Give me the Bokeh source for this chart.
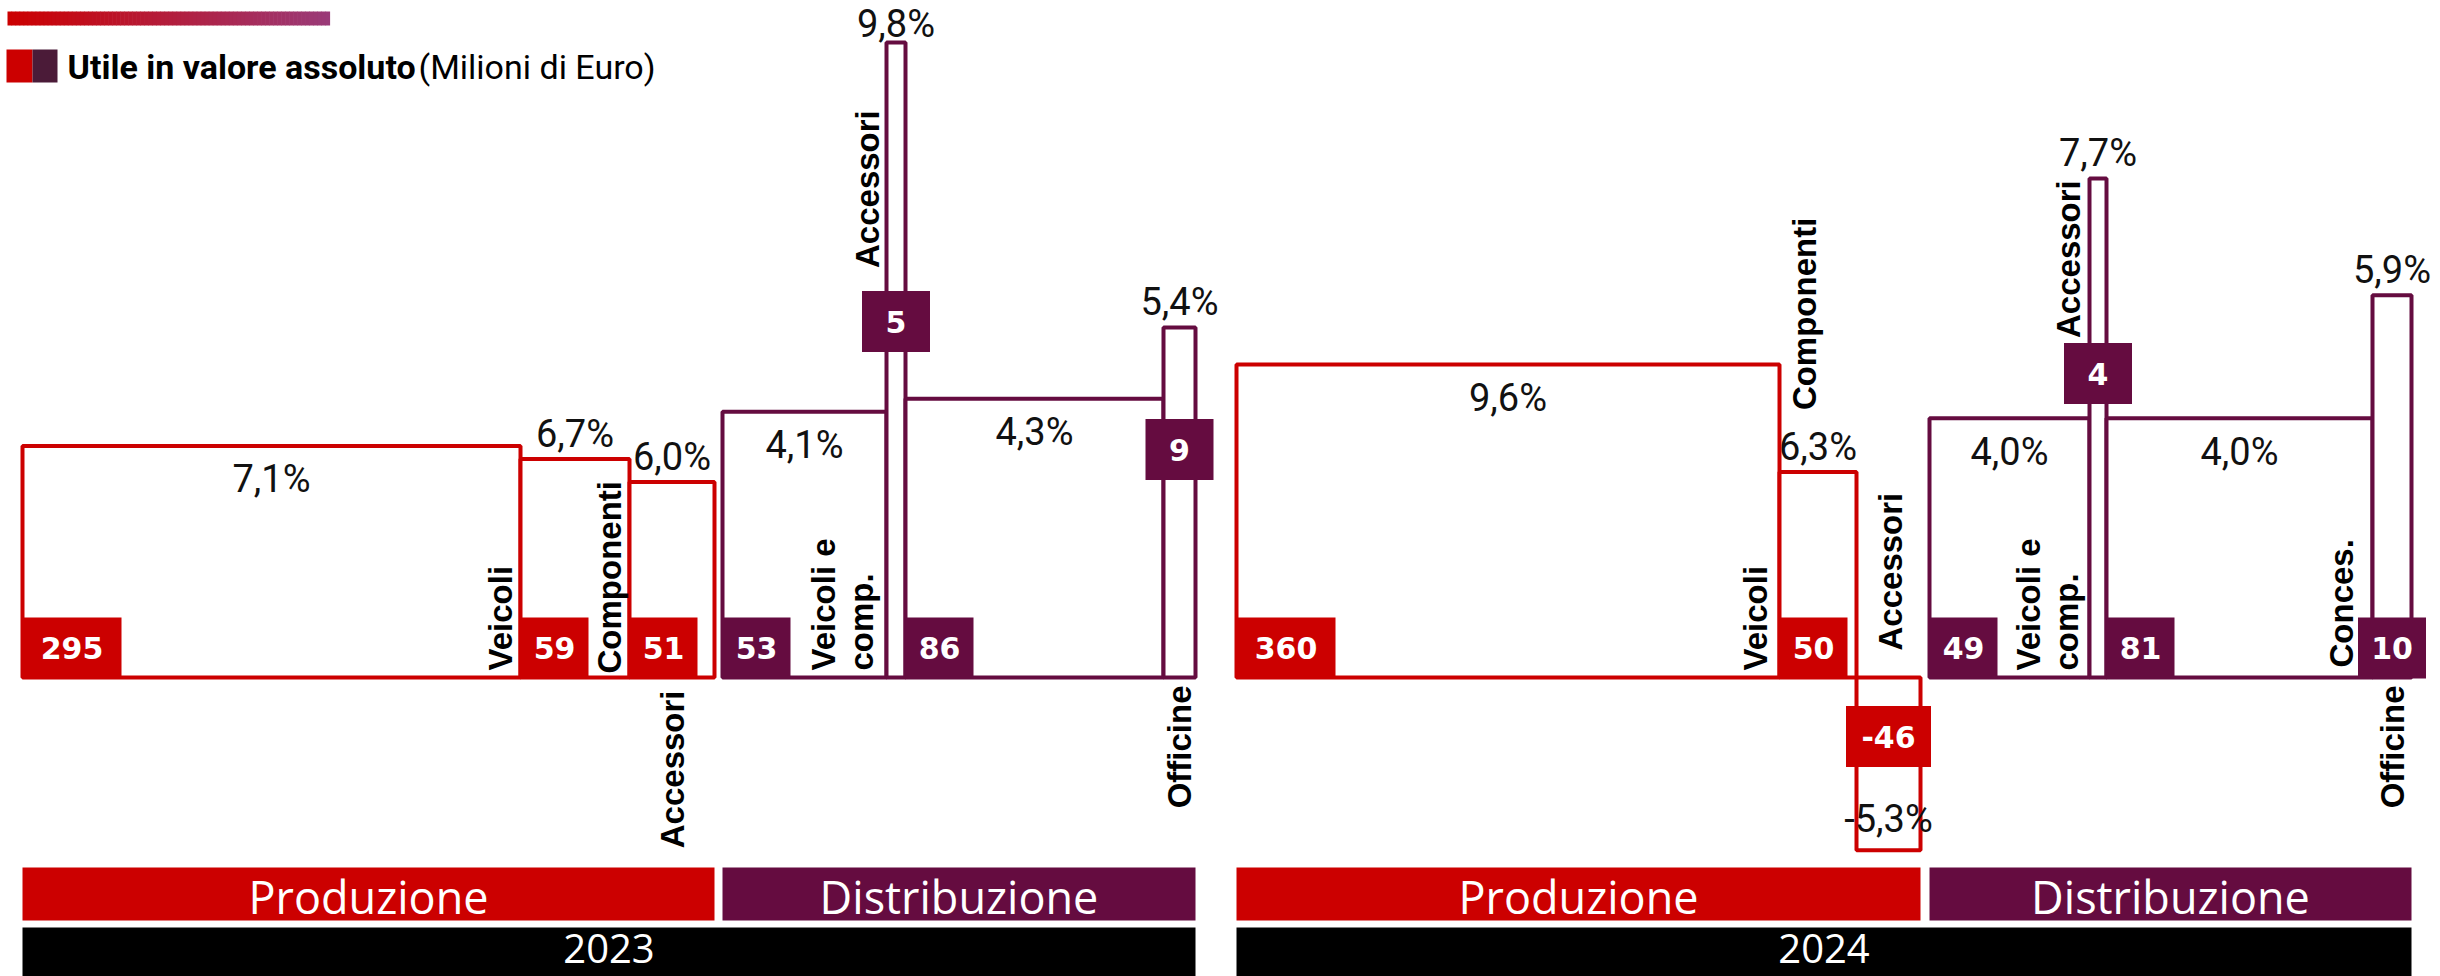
import math
from bokeh.plotting import figure
from bokeh.models import Range1d
from bokeh.core.properties import value
from bokeh.embed import file_html
from bokeh.resources import INLINE

# ---------------- DATA ----------------
anni = ["2023", "2024"]
settori = ["Produzione", "Distribuzione"]

seg_prod_2023 = ["Veicoli", "Componenti", "Accessori"]
margine_prod_2023 = [7.1, 6.7, 6.0]          # margine %
utile_prod_2023 = [295, 59, 51]              # utile, milioni di euro
peso_prod_2023 = [498, 109, 85]              # larghezza relativa delle colonne

seg_dist_2023 = ["Veicoli e\ncomp.", "Accessori", "Concessionari", "Officine"]
margine_dist_2023 = [4.1, 9.8, 4.3, 5.4]
utile_dist_2023 = [53, 5, 86, 9]
peso_dist_2023 = [164, 19, 258, 32]

seg_prod_2024 = ["Veicoli", "Componenti", "Accessori"]
margine_prod_2024 = [9.6, 6.3, -5.3]
utile_prod_2024 = [360, 50, -46]
peso_prod_2024 = [543, 77, 64]

seg_dist_2024 = ["Veicoli e\ncomp.", "Accessori", "Conces.", "Officine"]
margine_dist_2024 = [4.0, 7.7, 4.0, 5.9]
utile_dist_2024 = [49, 4, 81, 10]
peso_dist_2024 = [160, 17, 266, 39]

legenda_bold = "Utile in valore assoluto"
legenda_reg = "(Milioni di Euro)"

# ---------------- STYLE / LAYOUT ----------------
W, H = 2440, 976
BASE = 299.0          # px (from bottom) of the 0 % line
SP = 32.6             # px per % (Produzione)
SD = 64.8             # px per % (Distribuzione)
RED = "#CC0000"
PLUM = "#650C40"
LEG_DARK = "#4B1B38"
X_START = 22
GAPS = [0, 8, 41, 9]
MID_K = 0.35          # middle of text box above baseline, in em
TOP_LIMIT = H - 37    # highest allowed baseline for a label (px from bottom)

PCT_FS, CAT_FS, VAL_FS, BAND_FS, YEAR_FS, LEG_FS = 38, 33, 30, 45, 40, 34

# value box placement per segment
BOX_SPECS = [
    [("left",), ("left",), ("left",)],
    [("left",), ("center", 356), ("left",), ("center", 228)],
    [("left",), ("left",), ("center", -59)],
    [("left",), ("center", 304), ("left",), ("cbottom",)],
]
# category label placement per segment: (mode, dx, dy) -> baseline position
LAB_SPECS = [
    [("in", 8, 7), ("in", 8, 4), ("below", 12, 13)],
    [("in", 13, 7), ("left", 7, 23), None, ("below", 12, 8)],
    [("in", 12, 7), ("above_top", -2, 62), ("col", 14, 27)],
    [("in", 11, 7), ("left", 9, 5), ("in", 19, 10), ("below", 12, 8)],
]

blocks = [
    dict(anno=anni[0], settore=settori[0], nomi=seg_prod_2023, m=margine_prod_2023, u=utile_prod_2023, w=peso_prod_2023),
    dict(anno=anni[0], settore=settori[1], nomi=seg_dist_2023, m=margine_dist_2023, u=utile_dist_2023, w=peso_dist_2023),
    dict(anno=anni[1], settore=settori[0], nomi=seg_prod_2024, m=margine_prod_2024, u=utile_prod_2024, w=peso_prod_2024),
    dict(anno=anni[1], settore=settori[1], nomi=seg_dist_2024, m=margine_dist_2024, u=utile_dist_2024, w=peso_dist_2024),
]

p = figure(width=W, height=H, x_range=Range1d(0, W), y_range=Range1d(0, H),
           output_backend="svg", toolbar_location=None, min_border=0,
           x_axis_location=None, y_axis_location=None, outline_line_color=None)
p.grid.visible = False
p.extra_y_ranges = {"prod": Range1d(-BASE / SP, (H - BASE) / SP),
                    "dist": Range1d(-BASE / SD, (H - BASE) / SD)}

pct = {"prod": dict(x=[], y=[], t=[]), "dist": dict(x=[], y=[], t=[])}
boxes = dict(l=[], r=[], b=[], t=[], c=[])
box_txt = dict(x=[], y=[], t=[])
cats = dict(x=[], y=[], t=[], a=[])
bands = []

x = X_START
for bi, b in enumerate(blocks):
    x += GAPS[bi]
    rng = "prod" if b["settore"] == settori[0] else "dist"
    sc = SP if rng == "prod" else SD
    col = RED if rng == "prod" else PLUM
    bx0 = x
    L, R, B, T = [], [], [], []
    for wv, mv in zip(b["w"], b["m"]):
        L.append(x); R.append(x + wv)
        B.append(min(0, mv)); T.append(max(0, mv))
        x += wv
    bands.append((bx0, x, b["settore"], b["anno"], col))
    p.quad(left=L, right=R, bottom=B, top=T, y_range_name=rng,
           fill_color="white", line_color=col, line_width=4)

    for i, (nome, mv, uv) in enumerate(zip(b["nomi"], b["m"], b["u"])):
        l, r = L[i], R[i]
        cx = (l + r) / 2
        width = r - l
        # percent label (baseline offset in px, converted to % units)
        if mv < 0:
            base_off = 18
        elif width > 150:
            base_off = -46.5
        else:
            base_off = 12
            top_px = BASE + mv * sc
            base_off = min(top_px + base_off, TOP_LIMIT) - top_px
        yy = mv + (base_off + MID_K * PCT_FS) / sc
        pct[rng]["x"].append(cx); pct[rng]["y"].append(yy)
        pct[rng]["t"].append(f"{mv:.1f}".replace(".", ",") + "%")
        # value box
        s = str(uv)
        bw = 68 if len(s) <= 2 else (85 if s.startswith("-") else 99)
        spec = BOX_SPECS[bi][i]
        if spec[0] == "left":
            x0b, y0b = l, BASE - 1
        elif spec[0] == "center":
            x0b, y0b = cx - bw / 2, BASE + spec[1] - 30.5
        else:
            x0b, y0b = cx - bw / 2, BASE - 1
        boxes["l"].append(x0b); boxes["r"].append(x0b + bw)
        boxes["b"].append(y0b); boxes["t"].append(y0b + 61); boxes["c"].append(col)
        box_txt["x"].append(x0b + bw / 2); box_txt["y"].append(y0b + 30.5); box_txt["t"].append(s)
        # category label (rotated, reading upwards)
        ls = LAB_SPECS[bi][i]
        if ls is None:
            continue
        mode, d, o = ls
        if mode == "in":
            bxl, syl, al = r - d, BASE + o, "left"
        elif mode == "below":
            bxl, syl, al = cx + d, BASE - o, "right"
        elif mode == "above_top":
            bxl, syl, al = cx + d, BASE + mv * sc + o, "left"
        elif mode == "left":
            bxl, syl, al = l - d, y0b + 61 + o, "left"
        else:
            bxl, syl, al = cx + d, BASE + o, "left"
        lines = nome.split("\n")
        n = len(lines)
        for k, line in enumerate(lines):
            base_x = bxl - (n - 1 - k) * 38
            cats["x"].append(base_x - MID_K * CAT_FS); cats["y"].append(syl)
            cats["t"].append(line); cats["a"].append(al)

# value boxes
p.quad(left=boxes["l"], right=boxes["r"], bottom=boxes["b"], top=boxes["t"],
       fill_color=boxes["c"], line_color=None)
p.text(x=box_txt["x"], y=box_txt["y"], text=box_txt["t"], text_align="center",
       text_baseline="middle", text_color="white", text_font=value("DejaVu Sans"),
       text_font_style="bold", text_font_size=value(f"{VAL_FS}px"))

# percent labels
for rng in ("prod", "dist"):
    p.text(x=pct[rng]["x"], y=pct[rng]["y"], text=pct[rng]["t"], y_range_name=rng,
           text_align="center", text_baseline="middle", text_color="#111111",
           text_font=value("Roboto"), text_font_size=value(f"{PCT_FS}px"))

# category labels (rotated)
for al in ("left", "right"):
    idx = [k for k in range(len(cats["t"])) if cats["a"][k] == al]
    p.text(x=[cats["x"][k] for k in idx], y=[cats["y"][k] for k in idx],
           text=[cats["t"][k] for k in idx], angle=math.pi / 2,
           text_align=al, text_baseline="middle", text_color="#000000",
           text_font=value("Liberation Sans"), text_font_style="bold",
           text_font_size=value(f"{CAT_FS}px"))

# sector bands and year bands
for (x0, x1, settore, anno, col) in bands:
    p.quad(left=[x0], right=[x1], bottom=[56], top=[109], fill_color=col, line_color=None)
for k, anno in enumerate(anni):
    x0 = bands[2 * k][0]
    x1 = bands[2 * k + 1][1]
    p.quad(left=[x0], right=[x1], bottom=[0], top=[49], fill_color="black", line_color=None)
p.text(x=[(b_[0] + b_[1]) / 2 for b_ in bands], y=[80] * len(bands), text=[b_[2] for b_ in bands],
       text_align="center", text_baseline="middle", text_color="white",
       text_font=value("Open Sans"), text_font_size=value(f"{BAND_FS}px"))
p.text(x=[(bands[2 * k][0] + bands[2 * k + 1][1]) / 2 for k in range(len(anni))], y=[28] * len(anni),
       text=anni, text_align="center", text_baseline="middle", text_color="white",
       text_font=value("Open Sans"), text_font_size=value(f"{YEAR_FS}px"))

# legend: gradient bar
def hex2rgb(h):
    return [int(h[i:i + 2], 16) for i in (1, 3, 5)]
c1, c2 = hex2rgb("#CC0000"), hex2rgb("#9A3A78")
NSEG = 80
gl, gr, gc = [], [], []
for i in range(NSEG):
    t = i / (NSEG - 1)
    rgb = [round(a + (b_ - a) * t) for a, b_ in zip(c1, c2)]
    gl.append(7 + i * 322 / NSEG); gr.append(7 + (i + 1) * 322 / NSEG + 0.6)
    gc.append("#%02x%02x%02x" % tuple(rgb))
p.quad(left=gl, right=gr, bottom=951, top=965, fill_color=gc, line_color=None)

p.quad(left=[6, 32], right=[32, 57], bottom=[894, 894], top=[927, 927],
       fill_color=[RED, LEG_DARK], line_color=None)
p.text(x=[67], y=[909.5], text=[legenda_bold], text_align="left", text_baseline="middle",
       text_color="black", text_font=value("Roboto"), text_font_style="bold",
       text_font_size=value(f"{LEG_FS}px"))
p.text(x=[418], y=[909.5], text=[legenda_reg], text_align="left", text_baseline="middle",
       text_color="black", text_font=value("Roboto"), text_font_size=value(f"{LEG_FS}px"))

open("out.html", "w").write(file_html(p, INLINE))
